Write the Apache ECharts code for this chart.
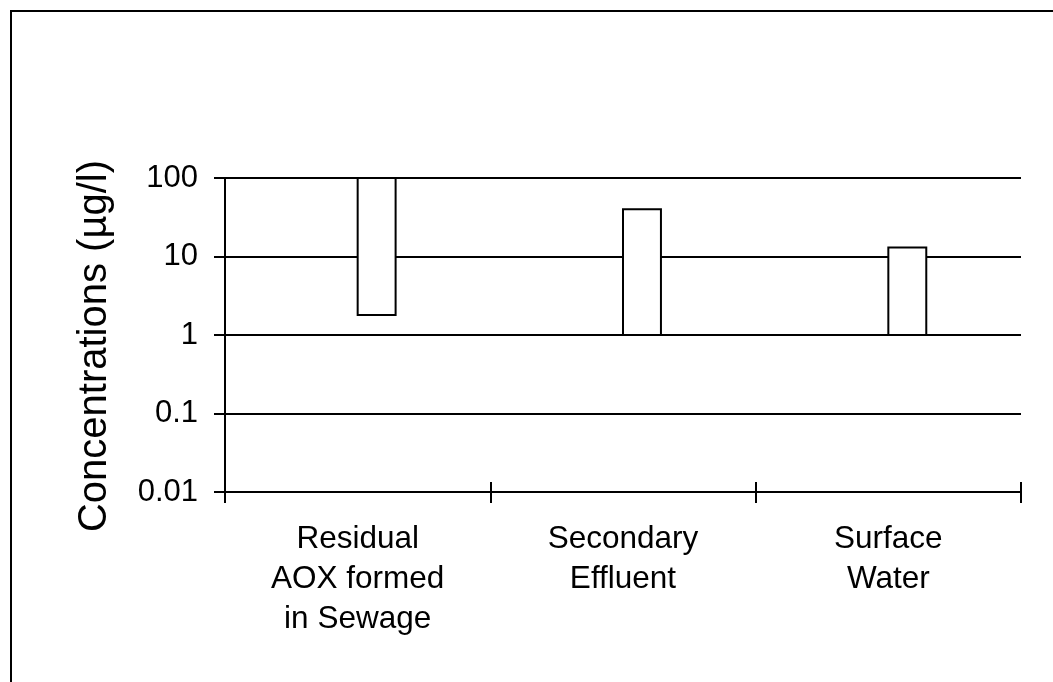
<!DOCTYPE html>
<html>
<head>
<meta charset="utf-8">
<script src="https://cdn.jsdelivr.net/npm/echarts@6/dist/echarts.min.js"></script>
<style>html,body{margin:0;padding:0;background:#fff;}#c{width:1053px;height:682px;}</style>
</head>
<body>
<div id="c"></div>
<script>
const categories = ['Residual\nAOX formed\nin Sewage', 'Secondary\nEffluent', 'Surface\nWater'];
const lowValues = [1.8, 1, 1];
const highValues = [100, 40, 13];
const yTicks = [0.01, 0.1, 1, 10, 100];

const chart = echarts.init(document.getElementById('c'));
const font = 'Liberation Sans, Arial, sans-serif';
chart.setOption({
  animation: false,
  backgroundColor: '#fff',
  graphic: [{
    type: 'rect', z: 100,
    shape: { x: 11, y: 11, width: 1200, height: 800 },
    style: { fill: 'none', stroke: '#000', lineWidth: 2 }
  }],
  grid: { left: 225, right: 32, top: 178, bottom: 190 },
  xAxis: [{
    type: 'category', data: categories, position: 'bottom',
    axisLine: { lineStyle: { color: '#000', width: 2 } },
    axisTick: { show: true, length: 11, inside: false, lineStyle: { color: '#000', width: 2 } },
    axisLabel: { color: '#000', fontFamily: font, fontSize: 31.5, lineHeight: 40, margin: 27 },
    splitLine: { show: false }
  }, {
    type: 'category', data: categories, position: 'bottom',
    axisLine: { show: false },
    axisTick: { show: true, length: 10, inside: true, lineStyle: { color: '#000', width: 2 } },
    axisLabel: { show: false },
    splitLine: { show: false }
  }],
  yAxis: {
    type: 'log', logBase: 10, min: 0.01, max: 100,
    axisLine: { show: true, lineStyle: { color: '#000', width: 2 } },
    axisTick: { show: true, length: 11, lineStyle: { color: '#000', width: 2 } },
    axisLabel: { color: '#000', fontFamily: font, fontSize: 31, margin: 27,
      formatter: function (v) { const r = yTicks.find(t => Math.abs(t - v) / t < 1e-6); return r === undefined ? '' : String(r); } },
    splitLine: { show: true, lineStyle: { color: '#000', width: 2 } },
    name: 'Concentrations (µg/l)', nameLocation: 'middle', nameGap: 110,
    nameTextStyle: { color: '#000', fontFamily: font, fontSize: 40, padding: [0, 22, 0, 0] }
  },
  series: [{
    type: 'custom',
    xAxisIndex: 0,
    data: categories.map((c, i) => [i, lowValues[i], highValues[i]]),
    renderItem: function (params, api) {
      const top = api.coord([api.value(0), api.value(2)]);
      const bot = api.coord([api.value(0), api.value(1)]);
      const bw = api.size([1, 0])[0] * 0.143;
      return {
        type: 'rect',
        shape: { x: top[0], y: top[1], width: bw, height: bot[1] - top[1] },
        style: { fill: '#fff', stroke: '#000', lineWidth: 2 }
      };
    }
  }]
});
</script>
</body>
</html>
